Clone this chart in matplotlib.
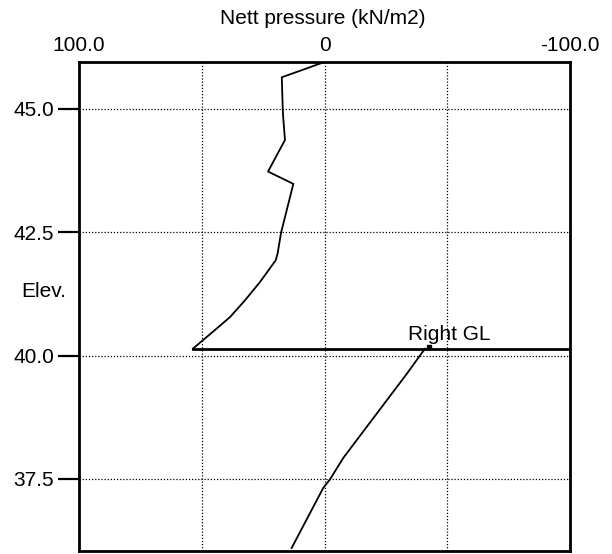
import matplotlib.pyplot as plt

plt.rcParams['font.family'] = ['Liberation Sans', 'DejaVu Sans']

# Nett pressure profiles (kN/m2) against elevation
left_p = [0, 17.4, 17.0, 16.8, 16.1, 23.0, 12.7, 17.7, 19.1, 19.9, 26.3, 32.4, 38.5, 44.6, 53.6]
left_e = [45.95, 45.64, 44.98, 44.81, 44.37, 43.73, 43.48, 42.49, 42.07, 41.93, 41.49, 41.12, 40.78, 40.52, 40.14]

right_p = [-40.9, -33.5, -25.3, -16.5, -7.7, -2.2, 0.5, 13.4]
right_e = [40.14, 39.63, 39.09, 38.51, 37.93, 37.49, 37.32, 36.10]

gl_elev = 40.14
gl_label = "Right GL"

x_ticks = [100, 0, -100]
x_ticklabels = ["100.0", "0", "-100.0"]
x_grid = [50, 0, -50]
y_ticks = [45.0, 42.5, 40.0, 37.5]

fig = plt.figure(figsize=(6.12, 5.54), dpi=100)
ax = fig.add_axes([0.1291, 0.0054, 0.8023, 0.8827])

# dotted grid
for x in x_grid:
    ax.axvline(x, color='black', lw=0.9, ls=(0, (1, 1.5)), zorder=1)
for y in y_ticks:
    ax.axhline(y, color='black', lw=0.9, ls=(0, (1, 1.5)), zorder=1)

ax.plot(left_p, left_e, color='black', lw=1.3, zorder=3)
ax.plot(right_p, right_e, color='black', lw=1.3, zorder=3)

# ground level line
ax.plot([left_p[-1], -100], [gl_elev, gl_elev], color='black', lw=2, zorder=3)
ax.plot([-42.5], [gl_elev + 0.04], marker='s', ms=3, color='black', zorder=4)
ax.text(-34, gl_elev + 0.1, gl_label, fontsize=15, ha='left', va='bottom')

ax.set_xlim(100, -100)
ax.set_ylim(36.04, 45.95)

ax.xaxis.tick_top()
ax.set_xticks(x_ticks)
ax.set_xticklabels(x_ticklabels)
ax.tick_params(axis='x', length=0, pad=5, labelsize=15)

ax.set_yticks(y_ticks)
ax.set_yticklabels([f"{v:.1f}" for v in y_ticks])
ax.tick_params(axis='y', length=15, width=1.6, pad=3, labelsize=15)

for s in ax.spines.values():
    s.set_linewidth(2)

fig.text(0.527, 0.967, "Nett pressure (kN/m2)", fontsize=15, ha='center', va='center')
fig.text(0.072, 0.474, "Elev.", fontsize=15, ha='center', va='center')

fig.savefig("out.png", dpi=100)
